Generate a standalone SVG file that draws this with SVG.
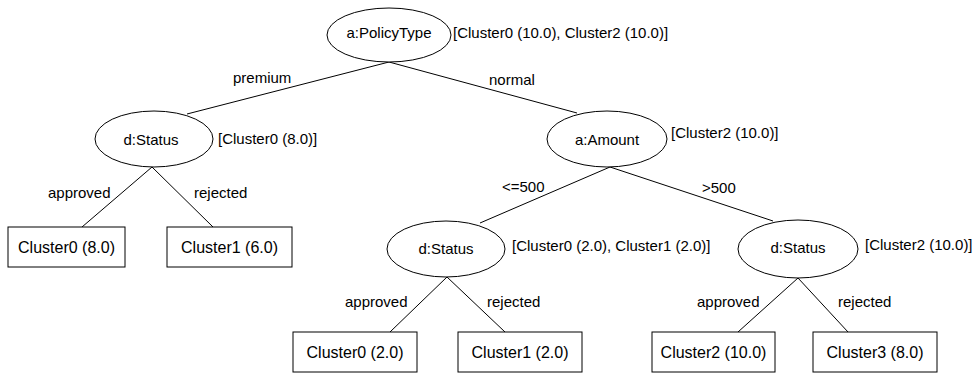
<svg xmlns="http://www.w3.org/2000/svg" width="975" height="376" viewBox="0 0 975 376">
<style>
text{font-family:"Liberation Sans",Arial,sans-serif;font-size:15px;fill:#000}
.c{text-anchor:middle}
.lf{font-size:16px}
ellipse,.box{fill:#fff;stroke:#000;stroke-width:1}
#edges line{stroke:#000;stroke-width:1}
</style>
<rect x="0" y="0" width="975" height="376" style="fill:#fff;stroke:none"/>
<g id="edges">
<line x1="389" y1="62" x2="187" y2="114"/>
<line x1="389" y1="62" x2="577" y2="113"/>
<line x1="152" y1="167" x2="82" y2="227"/>
<line x1="152" y1="167" x2="213" y2="227"/>
<line x1="610" y1="167" x2="480" y2="223"/>
<line x1="610" y1="167" x2="773" y2="221"/>
<line x1="447" y1="277" x2="390" y2="332"/>
<line x1="447" y1="277" x2="505" y2="332"/>
<line x1="798" y1="278" x2="738" y2="332"/>
<line x1="798" y1="278" x2="848" y2="332"/>
<text x="233" y="83">premium</text>
<text x="489" y="85">normal</text>
<text x="48" y="198">approved</text>
<text x="194" y="198">rejected</text>
<text x="502" y="192">&lt;=500</text>
<text x="702" y="193">&gt;500</text>
<text x="345" y="307">approved</text>
<text x="487" y="307">rejected</text>
<text x="697" y="307">approved</text>
<text x="838" y="307">rejected</text>
</g>
<g id="root">
<ellipse cx="389" cy="35" rx="62" ry="27"/>
<text class="c" x="389" y="38">a:PolicyType</text>
<text x="453" y="38">[Cluster0 (10.0), Cluster2 (10.0)]</text>
</g>
<g id="status1">
<ellipse cx="154" cy="139" rx="59" ry="28"/>
<text class="c" x="151" y="145">d:Status</text>
<text x="218" y="144">[Cluster0 (8.0)]</text>
</g>
<g id="amount">
<ellipse cx="607" cy="139" rx="60" ry="28"/>
<text class="c" x="607" y="145">a:Amount</text>
<text x="671" y="138">[Cluster2 (10.0)]</text>
</g>
<g id="status2">
<ellipse cx="446" cy="249" rx="59" ry="28"/>
<text class="c" x="446" y="254">d:Status</text>
<text x="512" y="251">[Cluster0 (2.0), Cluster1 (2.0)]</text>
</g>
<g id="status3">
<ellipse cx="798" cy="249" rx="60" ry="29"/>
<text class="c" x="798" y="253">d:Status</text>
<text x="865" y="250">[Cluster2 (10.0)]</text>
</g>
<g id="leaf1">
<rect class="box" x="8" y="227" width="117" height="40"/>
<text class="c lf" x="66.5" y="253">Cluster0 (8.0)</text>
</g>
<g id="leaf2">
<rect class="box" x="167" y="227" width="125" height="40"/>
<text class="c lf" x="229.5" y="253">Cluster1 (6.0)</text>
</g>
<g id="leaf3">
<rect class="box" x="293" y="332" width="124" height="40"/>
<text class="c lf" x="355" y="358">Cluster0 (2.0)</text>
</g>
<g id="leaf4">
<rect class="box" x="458" y="332" width="124" height="40"/>
<text class="c lf" x="520" y="358">Cluster1 (2.0)</text>
</g>
<g id="leaf5">
<rect class="box" x="652" y="332" width="123" height="40"/>
<text class="c lf" x="713.5" y="358">Cluster2 (10.0)</text>
</g>
<g id="leaf6">
<rect class="box" x="813" y="332" width="124" height="40"/>
<text class="c lf" x="875" y="358">Cluster3 (8.0)</text>
</g>
</svg>
